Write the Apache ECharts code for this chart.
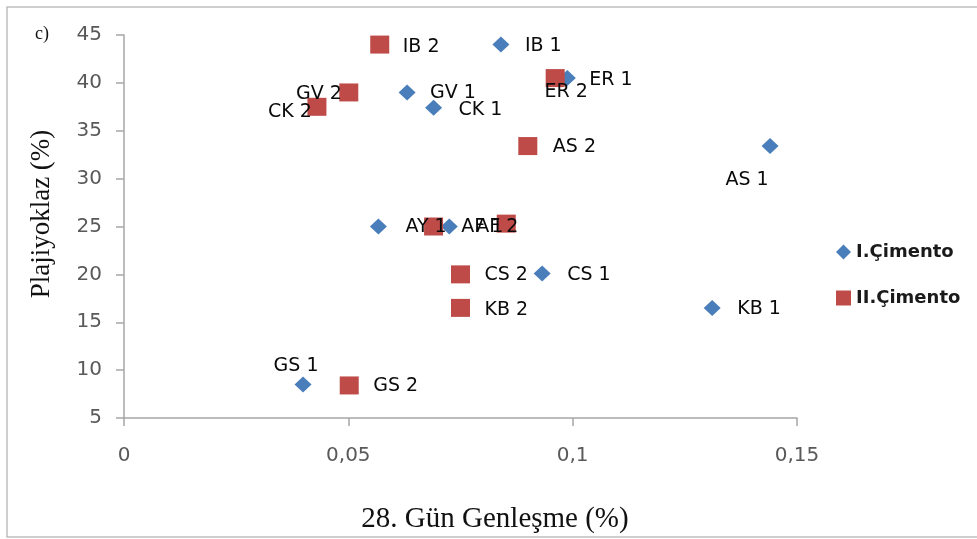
<!DOCTYPE html>
<html>
<head>
<meta charset="utf-8">
<script src="https://cdn.jsdelivr.net/npm/echarts@6/dist/echarts.min.js"></script>
<style>
  html, body { margin: 0; padding: 0; background: #fff; }
  #chart { width: 977px; height: 539px; }
</style>
</head>
<body>
<div id="chart"></div>
<script>
// Sample codes, 28-day expansion (%) and plagioclase content (%) per cement type
const seriesNames = ['I.Çimento', 'II.Çimento'];

const names1 = ['IB 1', 'ER 1', 'GV 1', 'CK 1', 'AS 1', 'AY 1', 'AF 1', 'CS 1', 'KB 1', 'GS 1'];
const expansion1 = [0.084, 0.0988, 0.0631, 0.069, 0.144, 0.0567, 0.0725, 0.0932, 0.1311, 0.0399];
const plagioclase1 = [44, 40.5, 39, 37.4, 33.4, 25, 25, 20.1, 16.5, 8.5];

const names2 = ['IB 2', 'ER 2', 'GV 2', 'CK 2', 'AS 2', 'AY 2', 'AF 2', 'CS 2', 'KB 2', 'GS 2'];
const expansion2 = [0.057, 0.0961, 0.0501, 0.043, 0.09, 0.069, 0.0852, 0.075, 0.075, 0.0502];
const plagioclase2 = [44, 40.5, 39, 37.5, 33.4, 25, 25.3, 20, 16.5, 8.4];

const xTicks = [0, 0.05, 0.1, 0.15];
const yTicks = [5, 10, 15, 20, 25, 30, 35, 40, 45];

// label anchor offsets from each marker centre: [dx, dy, align]; null hides the label
const labelPlacement = {
  'IB 1': [24, 1, 'left'], 'ER 1': [22, 1.5, 'left'], 'GV 1': [23, 1, 'left'],
  'CK 1': [25, 2, 'left'], 'AS 1': [-23, 34, 'center'], 'AY 1': [27, 1, 'left'],
  'AF 1': [12, 1, 'left'], 'CS 1': [25, 2, 'left'], 'KB 1': [25, 1, 'left'],
  'GS 1': [-7, -18, 'center'],
  'IB 2': [23, 2, 'left'], 'ER 2': [11, 14, 'center'], 'GV 2': [-7, 2, 'right'],
  'CK 2': [-5, 5, 'right'], 'AS 2': [25, 1, 'left'], 'AY 2': null,
  'AF 2': [-30, 3, 'left'], 'CS 2': [24, 1, 'left'], 'KB 2': [24, 2, 'left'],
  'GS 2': [24, 1, 'left']
};

const BLUE = '#4a7ebb';
const RED = '#be4b48';
const diamondSize = [17, 16];
const squareSize = [19, 18];

function buildPoints(names, xs, ys, size) {
  return names.map((n, i) => {
    const p = labelPlacement[n];
    const item = { name: n, value: [xs[i], ys[i]] };
    if (!p) {
      item.label = { show: false };
    } else {
      item.label = {
        position: [size[0] / 2 + p[0], size[1] / 2 + p[1]],
        align: p[2],
        verticalAlign: 'middle'
      };
    }
    return item;
  });
}

const pointLabel = {
  show: true,
  formatter: (d) => d.name,
  fontFamily: 'DejaVu Sans',
  fontSize: 19,
  color: '#0a0a0a'
};

const chart = echarts.init(document.getElementById('chart'), null, { renderer: 'canvas' });

chart.setOption({
  backgroundColor: '#ffffff',
  animation: false,
  grid: { left: 124, right: 180, top: 35, bottom: 121 },
  xAxis: {
    type: 'value',
    min: xTicks[0],
    max: xTicks[xTicks.length - 1],
    interval: 0.05,
    axisLine: { show: true, lineStyle: { color: '#a6a6a6', width: 1.5 } },
    axisTick: { show: true, length: 8, lineStyle: { color: '#a6a6a6', width: 1.5 } },
    splitLine: { show: false },
    axisLabel: {
      margin: 28,
      fontFamily: 'DejaVu Sans',
      fontSize: 20,
      color: '#595959',
      formatter: (v) => String(+v.toFixed(4)).replace('.', ',')
    }
  },
  yAxis: {
    type: 'value',
    min: yTicks[0],
    max: yTicks[yTicks.length - 1],
    interval: 5,
    axisLine: { show: true, lineStyle: { color: '#a6a6a6', width: 1.5 } },
    axisTick: { show: true, length: 8, lineStyle: { color: '#a6a6a6', width: 1.5 } },
    splitLine: { show: false },
    axisLabel: {
      margin: 22,
      fontFamily: 'DejaVu Sans',
      fontSize: 20,
      color: '#595959'
    }
  },
  legend: {
    orient: 'vertical',
    left: 831,
    top: 238,
    itemWidth: 15,
    itemHeight: 15,
    itemGap: 28,
    itemStyle: { opacity: 1 },
    textStyle: {
      fontFamily: 'DejaVu Sans',
      fontWeight: 'bold',
      fontSize: 18,
      lineHeight: 18,
      color: '#1a1a1a'
    },
    data: [
      { name: seriesNames[0], icon: 'diamond' },
      { name: seriesNames[1], icon: 'rect' }
    ]
  },
  graphic: [
    {
      // chart frame: left, top and bottom edges (the right edge runs off the page)
      type: 'polyline', silent: true,
      shape: { points: [[985, 7], [7, 7], [7, 537], [985, 537]] },
      style: { fill: 'none', stroke: '#bfbfbf', lineWidth: 1.5 }
    },
    {
      type: 'text', left: 35, top: 25,
      style: { text: 'c)', font: '18px "Liberation Serif"', fill: '#111' }
    },
    {
      type: 'text', x: 42, y: 214, rotation: Math.PI / 2,
      style: {
        text: 'Plajiyoklaz (%)', font: '27px "Liberation Serif"', fill: '#111',
        align: 'center', verticalAlign: 'middle'
      }
    },
    {
      type: 'text', x: 495, y: 519,
      style: {
        text: '28. Gün Genleşme (%)', font: '29px "Liberation Serif"', fill: '#111',
        align: 'center', verticalAlign: 'middle'
      }
    }
  ],
  series: [
    {
      name: seriesNames[0],
      type: 'scatter',
      symbol: 'diamond',
      symbolSize: diamondSize,
      itemStyle: { color: BLUE, opacity: 1 },
      label: pointLabel,
      data: buildPoints(names1, expansion1, plagioclase1, diamondSize)
    },
    {
      name: seriesNames[1],
      type: 'scatter',
      symbol: 'rect',
      symbolSize: squareSize,
      itemStyle: { color: RED, opacity: 1 },
      label: pointLabel,
      data: buildPoints(names2, expansion2, plagioclase2, squareSize)
    }
  ]
});
</script>
</body>
</html>
